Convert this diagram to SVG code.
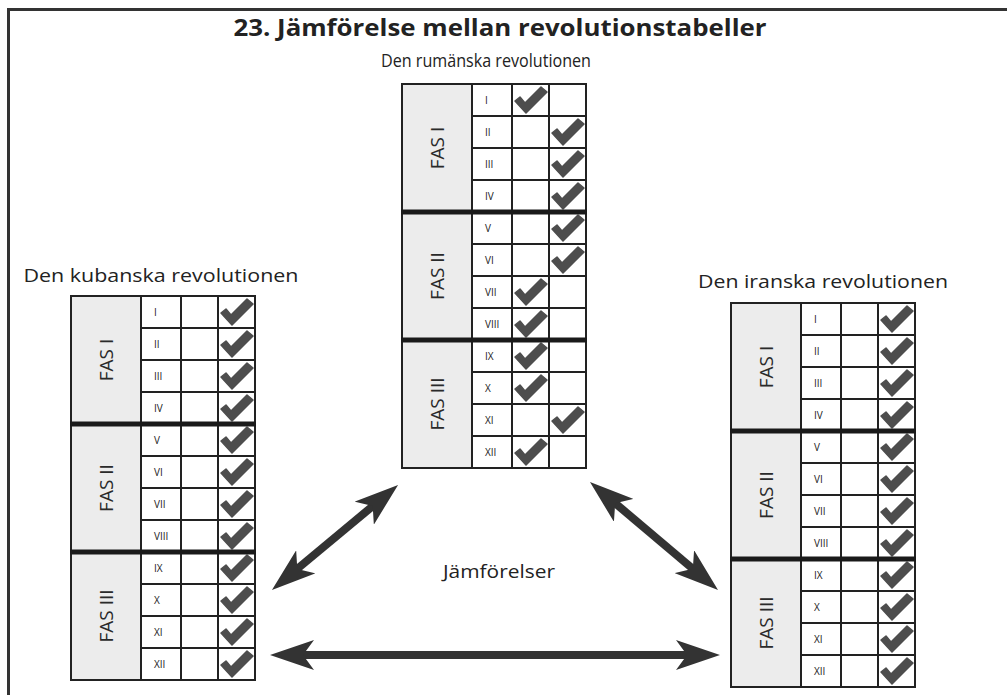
<svg xmlns="http://www.w3.org/2000/svg" xmlns:xlink="http://www.w3.org/1999/xlink" width="1007" height="695" viewBox="0 0 1007 695">
<style>
text{font-family:"Open Sans","Noto Sans","Liberation Sans",sans-serif;fill:#222}
.title{font-size:24px;font-weight:bold;text-anchor:middle}
.lbl{font-size:19px;text-anchor:middle}
.fas{font-size:19px;text-anchor:middle;fill:#2a2a2a}
.rn{font-size:10px;fill:#222}
.ph{fill:#ececec}
.cells{fill:#fff}
.grid{stroke:#222;stroke-width:2;fill:none}
.thick{stroke:#1a1a1a;stroke-width:5}
.frame{stroke:#333;stroke-width:3;fill:none}
.arr{stroke:#333;stroke-width:8;fill:none}
</style>
<defs>
<path id="ck" d="M3,17 L8,13 L13,19 L29,3 L35,8 L14,29 Z" fill="#4d4d4d" stroke="#4d4d4d" stroke-width="1.5" stroke-linejoin="round"/>
<marker id="ah" viewBox="0 -15 44 30" refX="14" refY="0" markerWidth="44" markerHeight="30" markerUnits="userSpaceOnUse" orient="auto-start-reverse">
<path d="M44,0 L0,-15 L11,0 L0,15 Z" fill="#333"/>
</marker>
<g id="grid">
<rect class="ph" x="0" y="0" width="70" height="384"/>
<rect class="cells" x="70" y="0" width="114" height="384"/>
<path class="grid" d="M70,32H184M70,64H184M70,96H184M70,160H184M70,192H184M70,224H184M70,288H184M70,320H184M70,352H184M70,0V384M110,0V384M147,0V384"/>
<rect class="grid" x="0" y="0" width="184" height="384"/>
</g>
<g id="labels">
<text class="fas" transform="translate(35,64) rotate(-90)" y="7">FAS I</text>
<text class="fas" transform="translate(35,192) rotate(-90)" y="7">FAS II</text>
<text class="fas" transform="translate(35,320) rotate(-90)" y="7">FAS III</text>
<text class="rn" x="83" y="20">I</text>
<text class="rn" x="83" y="52">II</text>
<text class="rn" x="83" y="84">III</text>
<text class="rn" x="83" y="116">IV</text>
<text class="rn" x="83" y="148">V</text>
<text class="rn" x="83" y="180">VI</text>
<text class="rn" x="83" y="212">VII</text>
<text class="rn" x="83" y="244">VIII</text>
<text class="rn" x="83" y="276">IX</text>
<text class="rn" x="83" y="308">X</text>
<text class="rn" x="83" y="340">XI</text>
<text class="rn" x="83" y="372">XII</text>
</g>
<g id="allcol4">
<use xlink:href="#ck" x="147" y="0"/>
<use xlink:href="#ck" x="147" y="32"/>
<use xlink:href="#ck" x="147" y="64"/>
<use xlink:href="#ck" x="147" y="96"/>
<use xlink:href="#ck" x="147" y="128"/>
<use xlink:href="#ck" x="147" y="160"/>
<use xlink:href="#ck" x="147" y="192"/>
<use xlink:href="#ck" x="147" y="224"/>
<use xlink:href="#ck" x="147" y="256"/>
<use xlink:href="#ck" x="147" y="288"/>
<use xlink:href="#ck" x="147" y="320"/>
<use xlink:href="#ck" x="147" y="352"/>
</g>
<path id="seps" class="thick" d="M-1,128H185M-1,256H185"/>
</defs>

<rect width="1007" height="695" fill="#fff"/>
<path class="frame" d="M8.5,695V9.5H1007"/>
<text class="title" x="500" y="36" textLength="533" lengthAdjust="spacingAndGlyphs">23. Jämförelse mellan revolutionstabeller</text>

<g id="romania" transform="translate(402,84)">
<text class="lbl" x="84" y="-17" style="font-size:18px" textLength="210" lengthAdjust="spacingAndGlyphs">Den rumänska revolutionen</text>
<use xlink:href="#grid"/>
<use xlink:href="#labels"/>
<use xlink:href="#ck" x="110" y="0"/>
<use xlink:href="#ck" x="147" y="32"/>
<use xlink:href="#ck" x="147" y="64"/>
<use xlink:href="#ck" x="147" y="96"/>
<use xlink:href="#ck" x="147" y="128"/>
<use xlink:href="#ck" x="147" y="160"/>
<use xlink:href="#ck" x="110" y="192"/>
<use xlink:href="#ck" x="110" y="224"/>
<use xlink:href="#ck" x="110" y="256"/>
<use xlink:href="#ck" x="110" y="288"/>
<use xlink:href="#ck" x="147" y="320"/>
<use xlink:href="#ck" x="110" y="352"/>
<use xlink:href="#seps"/>
</g>

<g id="cuba" transform="translate(71,296)">
<text class="lbl" x="90" y="-14" textLength="275" lengthAdjust="spacingAndGlyphs">Den kubanska revolutionen</text>
<use xlink:href="#grid"/>
<use xlink:href="#labels"/>
<use xlink:href="#allcol4"/>
<use xlink:href="#seps"/>
</g>

<g id="iran" transform="translate(731,303)">
<text class="lbl" x="92" y="-15" textLength="250" lengthAdjust="spacingAndGlyphs">Den iranska revolutionen</text>
<use xlink:href="#grid"/>
<use xlink:href="#labels"/>
<use xlink:href="#allcol4"/>
<use xlink:href="#seps"/>
</g>

<g id="connectors">
<line class="arr" x1="295" y1="570.8" x2="375" y2="504.2" marker-start="url(#ah)" marker-end="url(#ah)"/>
<line class="arr" x1="612.9" y1="501.3" x2="695.1" y2="570.7" marker-start="url(#ah)" marker-end="url(#ah)"/>
<line class="arr" x1="300" y1="655" x2="690" y2="655" marker-start="url(#ah)" marker-end="url(#ah)"/>
<text class="lbl" x="499" y="578" style="font-size:18px" textLength="112" lengthAdjust="spacingAndGlyphs">Jämförelser</text>
</g>
</svg>
